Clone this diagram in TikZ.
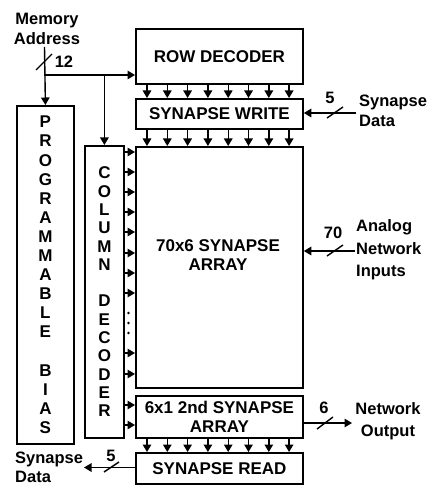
\documentclass[tikz,border=0pt]{standalone}
\usepackage{fontspec}
\setmainfont{Liberation Sans}
\usetikzlibrary{arrows.meta,calc}
\newcommand\boxfont{\fontsize{17}{19}\selectfont\bfseries}
\newcommand\lblfont{\fontsize{16.5}{20}\selectfont\bfseries}
\begin{document}
\begin{tikzpicture}[x=1pt,y=-1pt,
  box/.style={draw,line width=1.8pt,inner sep=0pt,font=\boxfont,anchor=north west},
  lbl/.style={inner sep=0pt,font=\lblfont},
  arr/.style={line width=1.4pt,-{Triangle[length=7.5pt,width=8.5pt]}},
  bus/.style={line width=1.4pt}]
\useasboundingbox (0,0) rectangle (431,486);

% blocks
\node[box,minimum width=167,minimum height=55] (rowdec) at (135,28) {ROW DECODER};
\node[box,minimum width=167,minimum height=30] (synwrite) at (135,98) {SYNAPSE WRITE};
\node[box,minimum width=167,minimum height=241] (array) at (135,146) {};
\node[lbl,font=\boxfont,align=center] (arraylbl) at (218,255) {70x6 SYNAPSE\\ARRAY};
\node[box,minimum width=167,minimum height=42,align=center] (sarray2) at (135,395) {6x1 2nd SYNAPSE\\ARRAY};
\node[box,minimum width=167,minimum height=31] (synread) at (135,452) {SYNAPSE READ};
\node[box,minimum width=39,minimum height=292,align=center,font=\fontsize{17}{18.3}\selectfont\bfseries] (coldec) at (84,145)
  {C\\O\\L\\U\\M\\N\\~\\D\\E\\C\\O\\D\\E\\R};
\node[box,minimum width=57,minimum height=338,align=center,font=\fontsize{17}{19.1}\selectfont\bfseries] (bias) at (16,105)
  {P\\R\\O\\G\\R\\A\\M\\M\\A\\B\\L\\E\\~\\B\\I\\A\\S};

% vertical bus arrows between stacked blocks
\foreach \i in {0,...,7} {
  \draw[arr] ($(rowdec.south west)+({12+20.3*\i},0)$) -- ($(synwrite.north west)+({12+20.3*\i},0)$);
  \draw[arr] ($(synwrite.south west)+({12+20.3*\i},0)$) -- ($(array.north west)+({12+20.3*\i},0)$);
  \draw[arr] ($(sarray2.south west)+({12+20.3*\i},0)$) -- ($(synread.north west)+({12+20.3*\i},0)$);
}

% column decoder outputs
\foreach \y in {152,172,192,212,232,253,273,293,353,374} {
  \coordinate (c) at ($(coldec.north east)+(0,\y-145)$);
  \draw[arr] (c) -- (c -| array.west);
}
\foreach \y in {405,425} {
  \coordinate (c) at ($(coldec.north east)+(0,\y-145)$);
  \draw[arr] (c) -- (c -| sarray2.west);
}
\foreach \y in {313,323,333} \fill (128.5,\y) circle[radius=1.4pt];

% memory address
\node[lbl,align=center] (mem) at (47,29) {Memory\\Address};
\coordinate (ma) at (44.5,47);
\coordinate (jn) at (44.5,75);
\draw[arr] (ma) -- (bias.north);
\draw[arr] (jn) -- (jn -| rowdec.west);
\coordinate (br) at (coldec.north |- jn);
\draw[arr] (br) -- (coldec.north);
\draw[bus] (36,70) -- (52,54);
\node[lbl] (n12) at (64,62) {12};

% synapse write data
\coordinate (swin) at (356,113);
\draw[arr] (swin) -- (swin -| synwrite.east);
\draw[bus] (327,118) -- (343,107);
\node[lbl] (n5a) at (330,98) {5};
\node[lbl,align=left,anchor=west] (swdata) at (359,111) {Synapse\\Data};

% analog inputs
\coordinate (ain) at (355,251);
\draw[arr] (ain) -- (ain -| array.east);
\draw[bus] (327,256) -- (343,245);
\node[lbl] (n70) at (333,233) {70};
\node[lbl,align=left,anchor=west,font=\fontsize{16.5}{22.5}\selectfont\bfseries] (ain lbl) at (356,250) {Analog\\Network\\Inputs};

% network output
\coordinate (nout) at (352,423);
\draw[arr] (nout -| sarray2.east) -- (nout);
\draw[bus] (317,429) -- (333,417);
\node[lbl] (n6) at (324,408) {6};
\node[lbl,align=center,font=\fontsize{16.5}{22}\selectfont\bfseries] (noutlbl) at (388,421) {Network\\Output};

% synapse read data
\coordinate (sro) at (84,467.5);
\draw[arr] (sro -| synread.west) -- (sro);
\draw[bus] (104,472) -- (119,462);
\node[lbl] (n5b) at (111,456) {5};
\node[lbl,align=left,anchor=west,font=\fontsize{16.5}{19}\selectfont\bfseries] (srdata) at (15,467) {Synapse\\Data};
\end{tikzpicture}
\end{document}
